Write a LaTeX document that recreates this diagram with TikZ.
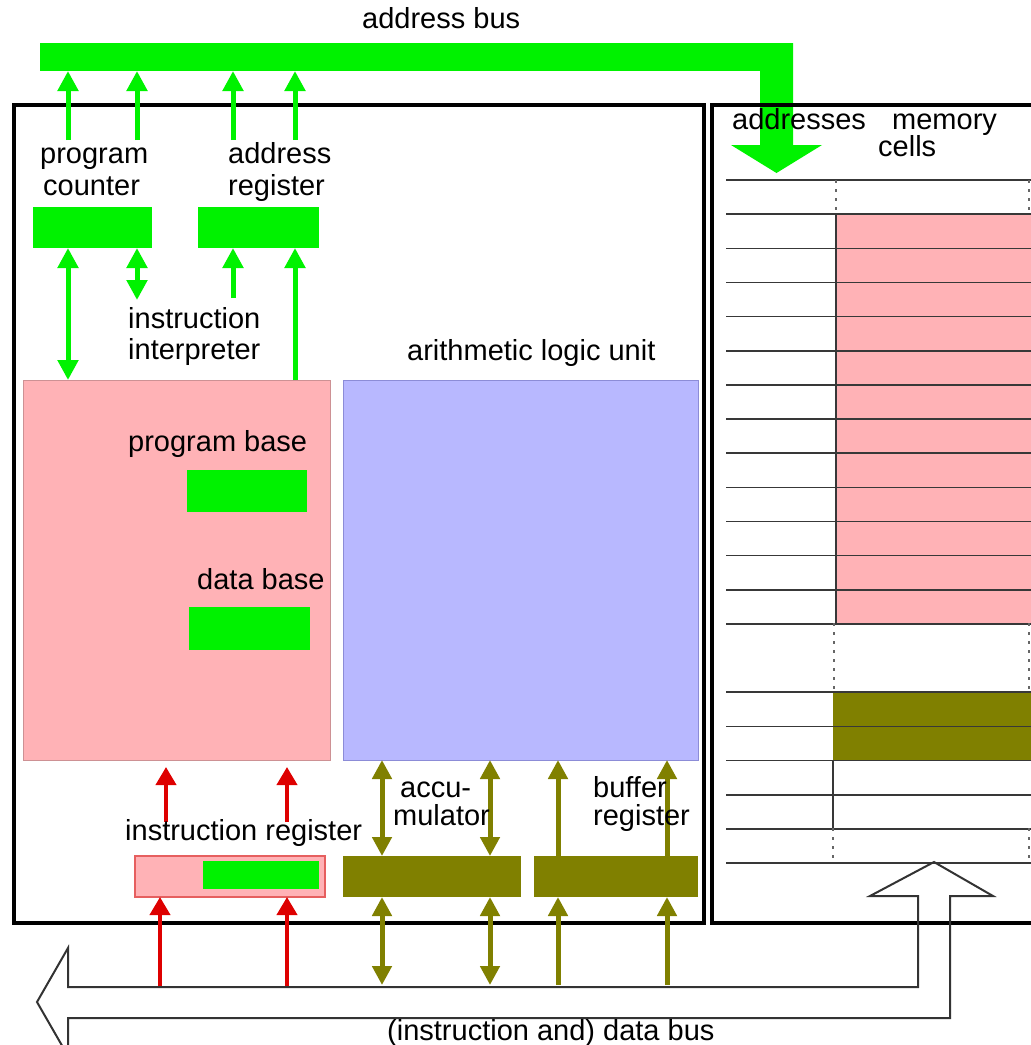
\documentclass[tikz,border=0pt]{standalone}
\usepackage{fontspec}
\setmainfont{Liberation Sans}
\usetikzlibrary{arrows.meta}
\definecolor{cgreen}{RGB}{0,242,0}
\definecolor{cpink}{RGB}{255,178,182}
\definecolor{cpinkd}{RGB}{205,145,148}
\definecolor{cblue}{RGB}{184,184,255}
\definecolor{cblued}{RGB}{140,140,215}
\definecolor{colive}{RGB}{128,128,0}
\definecolor{cred}{RGB}{222,0,0}
\definecolor{cirb}{RGB}{230,95,95}
\begin{document}
\begin{tikzpicture}[x=1pt,y=-1pt,
  reg/.style={inner sep=0pt,outer sep=0pt,anchor=north west},
  lbl/.style={inner sep=0pt,anchor=base west,font=\fontsize{29}{31}\selectfont},
  gtip/.tip={Triangle[length=20pt,width=20pt]},
  otip/.tip={Triangle[length=19pt,width=19pt]},
  rtip/.tip={Triangle[length=18pt,width=20pt]},
  garrow/.style={draw=cgreen,line width=5pt,-gtip},
  gdouble/.style={draw=cgreen,line width=5pt,gtip-gtip},
  oarrow/.style={draw=colive,line width=5pt,-otip},
  odouble/.style={draw=colive,line width=5pt,otip-otip},
  rarrow/.style={draw=cred,line width=4pt,-rtip},
  mline/.style={draw=black!78,line width=1.6pt},
  mdash/.style={draw=black!60,line width=1.3pt,dash pattern=on 3pt off 6pt},
  frame/.style={draw=black,line width=4pt}
]
\useasboundingbox (0,0) rectangle (1031,1045);

% ---------- memory ----------
\fill[cpink] (836,214) rectangle (1040,623);
\fill[colive] (833,692) rectangle (1040,760);
\foreach \k in {0,1,2,3,4,5,6,7,8,9,10,11,12,13,15,16,17,18,19,20}
  \draw[mline] (726,180+34.15*\k) -- (1035,180+34.15*\k);
\draw[mdash] (836,180) -- (836,214);
\draw[mline] (836,214) -- (836,623);
\draw[mdash] (834,623) -- (834,692);
\draw[mline] (833,760) -- (833,828);
\draw[mdash] (833,828) -- (833,863);
\draw[mdash] (1029,180) -- (1029,214);
\draw[mdash] (1029,623) -- (1029,692);
\draw[mdash] (1029,828) -- (1029,863);

% ---------- address bus ----------
\node[reg,fill=cgreen,minimum width=753pt,minimum height=28pt] (abus) at (40,43) {};
\fill[cgreen] (760,43) -- (793,43) -- (793,145) -- (822,145) -- (776.5,173)
  -- (731,145) -- (760,145) -- cycle;

% ---------- frames ----------
\node[reg,frame,minimum width=690pt,minimum height=818pt] (cpu) at (14,105) {};
\draw[frame] (712,104.5) rectangle (1060,923);

% ---------- registers and units ----------
\node[reg,fill=cgreen,minimum width=119pt,minimum height=41pt] (pc) at (33,207) {};
\node[reg,fill=cgreen,minimum width=121pt,minimum height=41pt] (ar) at (198,207) {};
\node[reg,fill=cpink,draw=cpinkd,line width=1pt,minimum width=307pt,minimum height=380pt] (interp) at (23,380) {};
\node[reg,fill=cblue,draw=cblued,line width=1pt,minimum width=355pt,minimum height=380pt] (alu) at (343,380) {};
\node[reg,fill=cgreen,minimum width=120pt,minimum height=42pt] (pb) at (187,470) {};
\node[reg,fill=cgreen,minimum width=121pt,minimum height=43pt] (db) at (189,607) {};
\node[reg,fill=cpink,draw=cirb,line width=1.5pt,minimum width=190pt,minimum height=41pt] (ir) at (135,856) {};
\node[reg,fill=cgreen,minimum width=116pt,minimum height=28pt] (irg) at (203,861) {};
\node[reg,fill=colive,minimum width=178pt,minimum height=41pt] (acc) at (343,856) {};
\node[reg,fill=colive,minimum width=164pt,minimum height=41pt] (buf) at (534,856) {};

% ---------- free ends ----------
\coordinate (g1) at (68,140);
\coordinate (g2) at (137,140);
\coordinate (g3) at (233,140);
\coordinate (g4) at (295,140);
\coordinate (g5) at (137,300);
\coordinate (g6) at (233,298);
\coordinate (r1) at (166,822);
\coordinate (r2) at (287,822);
\coordinate (r3) at (160,987);
\coordinate (r4) at (287,987);
\coordinate (o1) at (382,985);
\coordinate (o2) at (490,985);
\coordinate (o3) at (558,985);
\coordinate (o4) at (667,985);

% ---------- green connectors ----------
\draw[garrow] (g1) -- (abus.south -| g1);
\draw[garrow] (g2) -- (abus.south -| g2);
\draw[garrow] (g3) -- (abus.south -| g3);
\draw[garrow] (g4) -- (abus.south -| g4);
\draw[gdouble] (pc.south -| g1) -- (interp.north -| g1);
\draw[gdouble] (pc.south -| g5) -- (g5);
\draw[garrow] (g6) -- (ar.south -| g6);
\draw[garrow] (interp.north -| g4) -- (ar.south -| g4);

% ---------- red connectors ----------
\draw[rarrow,shorten >=7pt] (r1) -- (interp.south -| r1);
\draw[rarrow,shorten >=7pt] (r2) -- (interp.south -| r2);
\draw[rarrow] (r3) -- (ir.south -| r3);
\draw[rarrow] (r4) -- (ir.south -| r4);

% ---------- olive connectors ----------
\draw[odouble] (acc.north -| o1) -- (alu.south -| o1);
\draw[odouble] (acc.north -| o2) -- (alu.south -| o2);
\draw[oarrow] (buf.north -| o3) -- (alu.south -| o3);
\draw[oarrow] (buf.north -| o4) -- (alu.south -| o4);
\draw[odouble] (o1) -- (acc.south -| o1);
\draw[odouble] (o2) -- (acc.south -| o2);
\draw[oarrow] (o3) -- (buf.south -| o3);
\draw[oarrow] (o4) -- (buf.south -| o4);

% ---------- data bus (hollow arrow) ----------
\draw[draw=black!80,line width=2pt,line join=miter]
  (68,987) -- (918,987) -- (918,896) -- (870,896) -- (934,862) -- (993,896)
  -- (950,896) -- (950,1018) -- (68,1018) -- (68,1056) -- (37,1002)
  -- (68,948) -- cycle;

% ---------- labels ----------
\node[lbl] (tab) at (362,28) {address bus};
\node[lbl] (tpc1) at (40,163) {program};
\node[lbl] (tpc2) at (43,195) {counter};
\node[lbl] (tar1) at (228,163) {address};
\node[lbl] (tar2) at (228,195) {register};
\node[lbl] (tii1) at (128,328) {instruction};
\node[lbl] (tii2) at (128,359) {interpreter};
\node[lbl] (talu) at (407,360) {arithmetic logic unit};
\node[lbl] (tpb) at (128,451) {program base};
\node[lbl] (tdb) at (197,589) {data base};
\node[lbl] (tir) at (125,840) {instruction register};
\node[lbl] (tac1) at (400,797) {accu-};
\node[lbl] (tac2) at (393,825) {mulator};
\node[lbl] (tbr1) at (593,797) {buffer};
\node[lbl] (tbr2) at (593,825) {register};
\node[lbl] (tdbus) at (387,1040) {(instruction and) data bus};
\node[lbl] (tadr) at (732,129) {addresses};
\node[lbl] (tmem) at (892,129) {memory};
\node[lbl] (tcel) at (878,156) {cells};
\end{tikzpicture}
\end{document}
